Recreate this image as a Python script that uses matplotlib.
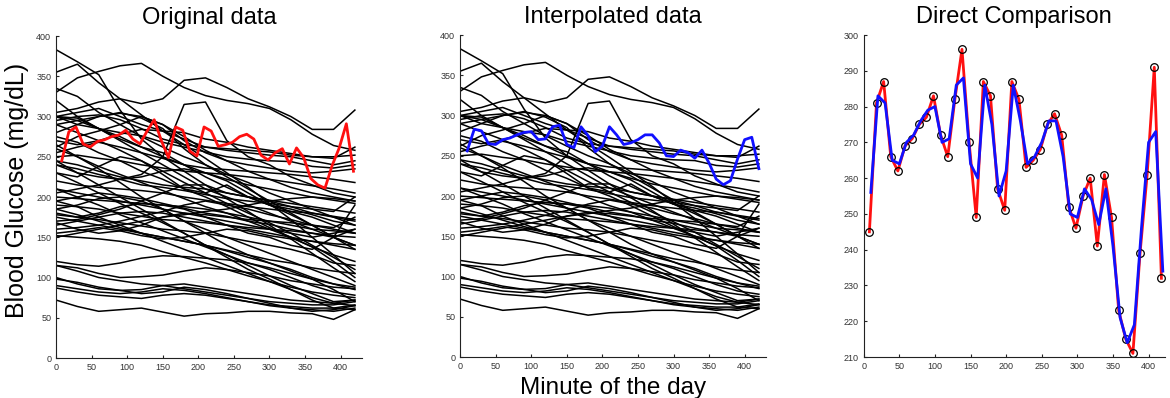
import numpy as np
import matplotlib
matplotlib.use("Agg")
import matplotlib.pyplot as plt

plt.rcParams['font.family'] = ['Liberation Sans', 'DejaVu Sans']

# minutes at which the background traces are read
minutes = np.arange(0, 421, 30)

# background patient traces (mg/dL)
traces = [
    [383, 368, 352, 308, 272, 250, 232, 215, 198, 182, 165, 148, 130, 112, 95],
    [355, 365, 342, 322, 302, 282, 265, 248, 230, 212, 192, 172, 150, 128, 105],
    [330, 348, 356, 363, 366, 350, 336, 326, 320, 316, 310, 296, 278, 264, 258],
    [305, 310, 318, 322, 316, 322, 345, 348, 336, 322, 312, 300, 284, 284, 308],
    [335, 325, 305, 290, 275, 262, 250, 240, 228, 218, 205, 195, 185, 175, 165],
    [320, 300, 285, 275, 262, 250, 240, 230, 220, 205, 190, 178, 165, 150, 140],
    [300, 305, 310, 300, 290, 282, 272, 262, 260, 258, 256, 252, 250, 250, 252],
    [295, 300, 302, 296, 285, 272, 265, 262, 258, 255, 252, 250, 245, 240, 245],
    [280, 290, 285, 280, 276, 268, 262, 256, 250, 247, 245, 244, 238, 236, 240],
    [270, 265, 270, 278, 284, 282, 280, 272, 268, 262, 258, 254, 250, 248, 262],
    [262, 275, 282, 290, 300, 290, 270, 255, 245, 240, 236, 232, 230, 232, 235],
    [255, 262, 268, 262, 255, 248, 240, 236, 234, 232, 230, 228, 225, 222, 218],
    [250, 252, 248, 245, 240, 236, 232, 230, 228, 225, 222, 218, 214, 210, 205],
    [300, 295, 285, 270, 255, 240, 225, 210, 200, 190, 180, 170, 160, 150, 140],
    [290, 280, 270, 258, 245, 232, 218, 205, 192, 180, 168, 155, 140, 125, 110],
    [275, 268, 255, 245, 232, 222, 210, 200, 188, 175, 162, 150, 138, 120, 100],
    [260, 250, 238, 228, 218, 208, 198, 188, 180, 170, 160, 150, 138, 128, 120],
    [245, 240, 232, 225, 220, 215, 212, 210, 205, 200, 196, 192, 188, 184, 180],
    [240, 235, 228, 222, 215, 212, 208, 203, 198, 195, 192, 188, 185, 182, 200],
    [230, 225, 238, 250, 245, 228, 210, 205, 215, 200, 190, 185, 178, 170, 165],
    [220, 215, 212, 210, 208, 205, 200, 196, 192, 188, 185, 182, 180, 176, 172],
    [210, 205, 200, 195, 190, 185, 180, 175, 170, 165, 160, 155, 150, 155, 160],
    [200, 198, 196, 194, 192, 190, 188, 185, 180, 175, 170, 165, 160, 158, 155],
    [195, 200, 205, 202, 198, 192, 186, 180, 176, 170, 166, 160, 155, 150, 190],
    [190, 188, 185, 180, 176, 172, 170, 168, 165, 162, 160, 158, 155, 152, 150],
    [185, 178, 170, 162, 155, 150, 145, 140, 134, 128, 122, 118, 112, 108, 105],
    [180, 175, 172, 168, 164, 160, 158, 155, 150, 145, 140, 135, 128, 118, 115],
    [175, 170, 165, 160, 155, 150, 145, 140, 133, 125, 118, 110, 100, 92, 85],
    [170, 172, 178, 185, 195, 205, 215, 215, 205, 200, 195, 188, 180, 175, 170],
    [165, 170, 175, 180, 182, 180, 175, 170, 165, 160, 155, 150, 145, 140, 135],
    [160, 162, 165, 170, 176, 182, 190, 195, 190, 185, 178, 172, 165, 160, 155],
    [155, 158, 162, 158, 152, 148, 150, 155, 160, 158, 152, 148, 145, 142, 140],
    [150, 155, 160, 165, 170, 175, 178, 182, 185, 190, 195, 198, 200, 196, 192],
    [152, 150, 148, 145, 140, 132, 125, 118, 110, 102, 95, 88, 82, 78, 75],
    [195, 188, 175, 165, 155, 145, 135, 125, 115, 105, 95, 85, 75, 68, 65],
    [210, 200, 190, 178, 168, 158, 148, 138, 128, 118, 110, 100, 90, 82, 78],
    [230, 218, 205, 192, 180, 168, 155, 140, 128, 115, 102, 90, 80, 70, 72],
    [245, 230, 215, 200, 185, 170, 155, 140, 125, 110, 98, 85, 72, 62, 60],
    [265, 250, 235, 218, 200, 185, 170, 155, 140, 128, 118, 108, 98, 85, 70],
    [120, 116, 114, 118, 124, 127, 126, 124, 122, 118, 112, 105, 98, 92, 88],
    [115, 112, 105, 100, 101, 103, 108, 112, 110, 106, 102, 96, 92, 88, 86],
    [100, 92, 86, 84, 85, 90, 92, 88, 84, 80, 76, 72, 70, 68, 72],
    [98, 94, 88, 84, 80, 82, 88, 85, 80, 74, 68, 62, 58, 60, 65],
    [90, 86, 82, 80, 82, 86, 84, 80, 75, 70, 66, 64, 62, 62, 66],
    [87, 82, 78, 76, 74, 78, 80, 78, 74, 70, 65, 62, 60, 58, 62],
    [72, 64, 58, 60, 62, 57, 52, 55, 56, 58, 58, 56, 55, 48, 60],
    [115, 108, 100, 96, 92, 90, 86, 82, 78, 74, 70, 68, 66, 66, 70],
    [185, 190, 198, 200, 195, 185, 170, 160, 150, 140, 130, 120, 110, 100, 90],
    [178, 175, 180, 188, 192, 190, 185, 175, 165, 155, 150, 140, 135, 150, 160],
    [168, 160, 155, 158, 165, 175, 180, 178, 175, 172, 170, 168, 165, 162, 175],
    [300, 290, 300, 305, 298, 285, 260, 240, 225, 210, 195, 180, 165, 150, 135],
    [290, 295, 300, 304, 300, 290, 275, 258, 245, 232, 222, 212, 205, 200, 195],
    [300, 298, 285, 272, 262, 255, 240, 225, 212, 200, 190, 182, 175, 165, 155],
    [205, 210, 215, 222, 225, 232, 235, 230, 222, 215, 210, 205, 200, 198, 195],
    [240, 230, 225, 222, 228, 250, 315, 318, 270, 250, 240, 225, 215, 205, 200],
]

# highlighted patient: raw samples and the interpolated series
raw_minutes = np.arange(8, 419, 10)
raw_values = [245, 281, 287, 266, 262, 269, 271, 275, 277, 283, 272, 266, 282, 296,
              270, 249, 287, 283, 257, 251, 287, 282, 263, 265, 268, 275, 278, 272,
              252, 246, 255, 260, 241, 261, 249, 223, 215, 211, 239, 261, 291, 232]
interp_minutes = np.arange(10, 421, 10)
interp_values = [256, 283, 281, 265, 264, 270, 272, 276, 279, 280, 270, 271, 286, 288,
                 264, 260, 286, 275, 255, 262, 286, 276, 264, 266, 270, 276, 276, 266,
                 250, 249, 257, 254, 247, 257, 241, 221, 214, 219, 246, 270, 273, 234]

fig = plt.figure(figsize=(11.7, 3.98), dpi=100)
ax1 = fig.add_axes([0.0479, 0.1005, 0.2615, 0.809])
ax2 = fig.add_axes([0.3932, 0.1030, 0.2615, 0.809])
ax3 = fig.add_axes([0.7382, 0.1030, 0.2575, 0.809])

for ax in (ax1, ax2):
    for t in traces:
        ax.plot(minutes, t, color='black', lw=1.1)
ax1.plot(raw_minutes, raw_values, color='#ff1010', lw=2.0)
ax2.plot(interp_minutes, interp_values, color='#1010ff', lw=2.0)

ax3.plot(raw_minutes, raw_values, color='#ff1010', lw=2.0)
ax3.plot(raw_minutes, raw_values, 'o', mfc='none', mec='black', ms=5.5, mew=0.9)
ax3.plot(interp_minutes, interp_values, color='#1010ff', lw=2.0)

for ax in (ax1, ax2, ax3):
    ax.spines['top'].set_visible(False)
    ax.spines['right'].set_visible(False)
    ax.spines['left'].set_color('#222222')
    ax.spines['bottom'].set_color('#222222')
    ax.tick_params(direction='in', length=2.5, width=0.8, labelsize=6.5,
                   labelcolor='#333333', color='#222222')
    ax.set_xticks(np.arange(0, 401, 50))

for ax in (ax1, ax2):
    ax.set_xlim(0, 430)
    ax.set_ylim(0, 400)
    ax.set_yticks(np.arange(0, 401, 50))
ax3.set_xlim(0, 423)
ax3.set_ylim(210, 300)
ax3.set_yticks(np.arange(210, 301, 10))

ax1.set_title('Original data', fontsize=17, pad=9)
ax2.set_title('Interpolated data', fontsize=17, pad=9)
ax3.set_title('Direct Comparison', fontsize=17, pad=9)

ax1.set_ylabel('Blood Glucose (mg/dL)', fontsize=18)
ax1.yaxis.set_label_coords(-0.09, 0.52)
ax2.set_xlabel('Minute of the day', fontsize=17.5)
ax2.xaxis.set_label_coords(0.5, -0.062)

fig.savefig('out.png', dpi=100)
